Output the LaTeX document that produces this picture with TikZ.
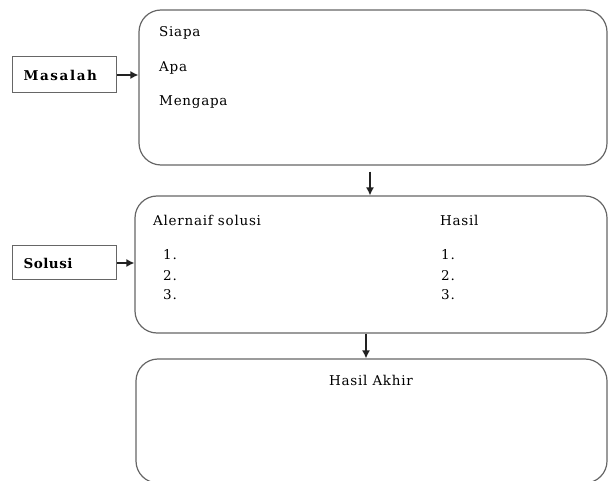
\documentclass[tikz,border=0pt]{standalone}
\usepackage{fontspec}
\usepackage{tikz}
\usepackage{xcolor}
\usetikzlibrary{arrows.meta, positioning}
\newfontfamily\boxfont[LetterSpace=5.5]{DejaVu Serif}
\newfontfamily\tagfont[LetterSpace=12]{DejaVu Serif}
\newfontfamily\tagfontnarrow[LetterSpace=4]{DejaVu Serif}
\definecolor{BoxGrey}{HTML}{666666}
\definecolor{ArrowDark}{HTML}{222222}

\begin{document}
\begin{tikzpicture}[x=1pt, y=-1pt,
    panel/.style={draw=BoxGrey, line width=1.2pt, rounded corners=22pt, inner sep=0pt},
    tagbox/.style={draw=BoxGrey, line width=1pt, inner xsep=11pt, text width=82pt, align=left, font=\tagfont\fontsize{13.5}{15}\selectfont\bfseries},
    item/.style={anchor=base west, inner sep=0pt, font=\boxfont\fontsize{13.5}{15}\selectfont},
    flow/.style={-{Latex[length=8pt, width=8pt]}, line width=1.3pt, ArrowDark}]
        \useasboundingbox (0,0) rectangle (608,481);

        % Left labels
        \node[tagbox, minimum height=36pt] (masalah) at (64.5,75) {Masalah};
        \node[tagbox, minimum height=34pt, font=\tagfontnarrow\fontsize{13.5}{15}\selectfont\bfseries] (solusi) at (64.5,263) {Solusi};

        % Panels
        \node[panel, minimum width=468pt, minimum height=155pt] (problem) at (373,87.5) {};
        \node[panel, minimum width=472pt, minimum height=137pt] (alternatif) at (371,264.5) {};
        \node[panel, minimum width=471pt, minimum height=124pt] (akhir) at (371.5,421) {};

        % Problem questions
        \node[item] (siapa) at (159,37) {Siapa};
        \node[item] (apa) at (159,72) {Apa};
        \node[item] (mengapa) at (159,106) {Mengapa};

        % Solution columns
        \node[item] (altjudul) at (153,226) {Alernaif solusi};
        \node[item] (hasiljudul) at (440,226) {Hasil};
        \foreach \n/\y in {1/260, 2/280, 3/299} {
            \node[item] (alt\n) at (163,\y) {\n.};
            \node[item] (hasil\n) at (441,\y) {\n.};
        }

        % Final result
        \node[item, anchor=base] (hasilakhir) at (371,385) {Hasil Akhir};

        % Arrows
        \draw[flow] (masalah.east) -- (masalah.east -| problem.west);
        \draw[flow] (solusi.east) -- (solusi.east -| alternatif.west);
        \draw[flow, shorten <=6pt] ([xshift=-3pt]problem.south) -- ([xshift=-3pt]problem.south |- alternatif.north);
        \draw[flow] ([xshift=-5pt]alternatif.south) -- ([xshift=-5pt]alternatif.south |- akhir.north);
    \end{tikzpicture}
\end{document}
